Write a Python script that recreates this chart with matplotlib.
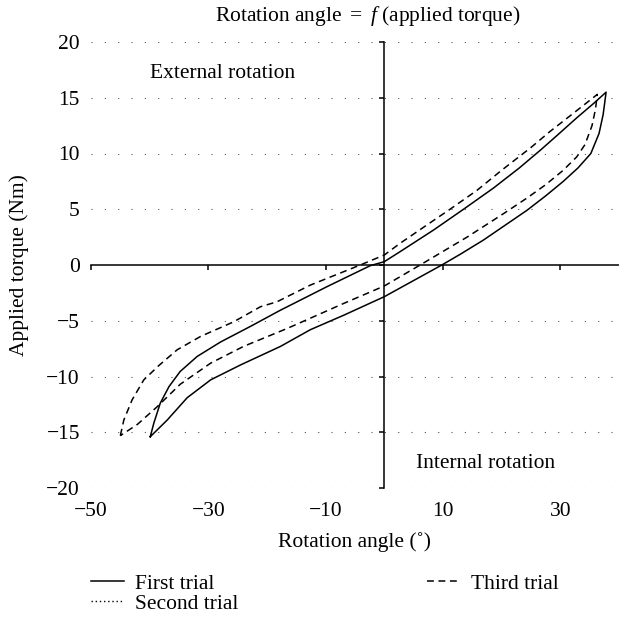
import matplotlib
matplotlib.use("Agg")
import matplotlib.pyplot as plt

plt.rcParams['font.family'] = ['Liberation Serif', 'DejaVu Serif']
plt.rcParams['mathtext.fontset'] = 'custom'
plt.rcParams['mathtext.rm'] = 'Liberation Serif'
plt.rcParams['mathtext.it'] = 'Liberation Serif:italic'

# First trial loop (solid): tip -> upper branch -> peak -> lower branch -> tip
first_angle = [-39.9, -39.3, -38.2, -36.7, -34.8, -31.9, -27.9, -22.8, -17.7, -15.4,
               -9.8, -2.4, 0.0, 2.7, 8.4, 13.5, 18.6, 23.0, 26.6, 29.4, 32.8, 35.7, 37.8,
               37.3, 36.6, 35.2, 33.0, 30.5, 27.5, 24.3, 16.9, 12.9, 9.8, 0.0, -6.9,
               -12.6, -17.7, -24.5, -29.6, -33.6, -37.0, -39.9]
first_torque = [-15.4, -14.2, -12.4, -10.9, -9.55, -8.2, -6.9, -5.5, -4.05, -3.44,
                -1.95, -0.06, 0.3, 1.2, 3.14, 5.0, 6.9, 8.7, 10.3, 11.6, 13.2, 14.5, 15.5,
                13.5, 11.8, 10.0, 8.7, 7.5, 6.2, 4.9, 2.24, 0.95, 0.0, -2.84, -4.5,
                -5.8, -7.3, -8.96, -10.3, -11.9, -13.9, -15.4]

# Third trial loop (dashed)
third_angle = [-45.0, -44.4, -43.0, -41.0, -38.4, -35.3, -31.3, -25.7, -21.1, -18.3,
               -12.6, -4.1, 0.0, 2.7, 8.4, 11.2, 15.8, 20.0, 24.9, 28.3, 32.2, 35.1, 36.3,
               36.0, 35.4, 34.2, 32.8, 30.5, 27.5, 24.3, 20.3, 14.1, 6.1, 0.0, -6.9,
               -16.6, -24.0, -29.6, -34.8, -38.7, -42.1, -45.0]
third_torque = [-15.3, -13.9, -12.1, -10.3, -9.0, -7.6, -6.4, -5.1, -3.74, -3.3,
                -1.8, 0.0, 0.9, 1.95, 4.0, 5.0, 6.7, 8.5, 10.5, 12.0, 13.6, 14.8, 15.3,
                14.0, 12.5, 10.8, 9.7, 8.5, 7.2, 6.0, 4.6, 2.5, 0.0, -1.88, -3.44,
                -5.7, -7.3, -8.8, -10.7, -12.7, -14.3, -15.3]

x_ticks = [-50, -30, -10, 10, 30]
y_ticks = [-20, -15, -10, -5, 0, 5, 10, 15, 20]
grid_levels = [-20, -15, -10, -5, 5, 10, 15, 20]

fs = 15.5


def fmt(v):
    return f'\u2212{abs(v)}' if v < 0 else str(v)


fig = plt.figure(figsize=(6.19, 6.19), dpi=100)
ax = fig.add_axes([91 / 619, 131 / 619, 528 / 619, 446 / 619])
ax.set_xlim(-50, 40)
ax.set_ylim(-20, 20)

# dotted horizontal guide lines
for lev in grid_levels:
    ax.axhline(lev, color='#555555', lw=0.8, linestyle=(0, (1, 11)), zorder=0)

ax.plot(first_angle, first_torque, color='black', lw=1.1, label='First trial')
ax.plot([], [], color='black', lw=1.0, linestyle=(0, (1, 2)), label='Second trial')
ax.plot(third_angle, third_torque, color='black', lw=1.1,
        linestyle=(0, (4.5, 3)), label='Third trial')

# axes crossing at zero
for s in ['top', 'right']:
    ax.spines[s].set_visible(False)
ax.spines['left'].set_position(('data', 0))
ax.spines['bottom'].set_position(('data', 0))
ax.spines['left'].set_linewidth(1.1)
ax.spines['bottom'].set_linewidth(1.1)
ax.set_xticks(x_ticks)
ax.set_yticks(y_ticks)
ax.tick_params(axis='both', direction='out', length=3.5, width=1.1,
               labelleft=False, labelbottom=False)

# tick labels along the plot edges
sy = ax.secondary_yaxis('left')
sy.set_yticks(y_ticks)
sy.spines['left'].set_visible(False)
sy.tick_params(length=0, pad=8, labelsize=fs)
sy.set_yticklabels([fmt(v) for v in y_ticks])
sy.set_ylabel('Applied torque (Nm)', fontsize=fs, labelpad=12)

sx = ax.secondary_xaxis('bottom')
sx.set_xticks(x_ticks)
sx.spines['bottom'].set_visible(False)
sx.tick_params(length=0, pad=10, labelsize=fs)
sx.set_xticklabels([fmt(v) for v in x_ticks])
sx.set_xlabel('Rotation angle (\u02da)', fontsize=fs, labelpad=8)

ax.text(-40, 17.2, 'External rotation', fontsize=fs, va='center', ha='left')
ax.text(5.4, -17.8, 'Internal rotation', fontsize=fs, va='center', ha='left')

fig.text(368 / 619, 1 - 16 / 619, 'Rotation angle $=$ $f$ (applied torque)',
         fontsize=fs, ha='center', va='center')

handles, labels = ax.get_legend_handles_labels()
fig.legend(handles, labels, ncol=2, loc='upper left',
           bbox_to_anchor=(80 / 619, 1 - 563 / 619), frameon=False,
           fontsize=fs, handlelength=1.55, handletextpad=0.5,
           columnspacing=8.75, labelspacing=0.0, borderpad=0)

fig.savefig('out.png', dpi=100)
